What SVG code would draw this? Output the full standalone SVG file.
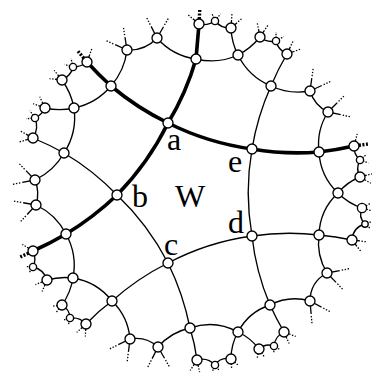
<svg xmlns="http://www.w3.org/2000/svg" xmlns:xlink="http://www.w3.org/1999/xlink" width="372" height="376" viewBox="0 0 372 376">
<style>
.e{fill:none;stroke:#000;stroke-width:1.35}
.t{fill:none;stroke:#000;stroke-width:3.6;stroke-linejoin:round}
circle{fill:#fff;stroke:#000;stroke-width:1.35}
text{font-family:"Liberation Serif","Times New Roman",serif;font-size:32px;fill:#000}
</style>
<defs>
<g id="s24" fill="none" stroke="#000" stroke-width="1.3"><path d="M0 0H13"/><path d="M15 0H24" stroke-dasharray="1.4 1.6"/></g>
<g id="s20" fill="none" stroke="#000" stroke-width="1.3"><path d="M0 0H11"/><path d="M12.5 0H20" stroke-dasharray="1.4 1.6"/></g>
<g id="s14" fill="none" stroke="#000" stroke-width="1.3"><path d="M0 0H8"/><path d="M9.5 0H14" stroke-dasharray="1.4 1.6"/></g>
<g id="s12" fill="none" stroke="#000" stroke-width="1.3"><path d="M0 0H7"/><path d="M8.5 0H12.5" stroke-dasharray="1.4 1.6"/></g>
<g id="s10" fill="none" stroke="#000" stroke-width="1.3"><path d="M0 0H6"/><path d="M7.5 0H10.5" stroke-dasharray="1.4 1.6"/></g>
<g id="s8" fill="none" stroke="#000" stroke-width="1.3"><path d="M0 0H4.5"/><path d="M5.8 0H9" stroke-dasharray="1.4 1.6"/></g>
<g id="s6" fill="none" stroke="#000" stroke-width="1.3"><path d="M0 0H3.6"/><path d="M4.8 0H7.5" stroke-dasharray="1.4 1.6"/></g>
<g id="tk" fill="none" stroke="#000" stroke-width="3.4"><path d="M0 0H7"/><path d="M8.5 0H14" stroke-dasharray="2 1.6"/></g>
</defs>
<rect width="372" height="376" fill="#fff"/>
<g id="connectors">
<path class="t" d="M199 24 L196 59 Q186.3 92.9 168 123 Q148.3 163.1 117 195 Q93.6 217.3 66 234 Q50 243.4 33 251"/>
<path class="t" d="M87 62 Q98.4 74.6 111 86 Q137.2 108 168 123 Q207.9 142.9 252 149 Q285.3 154.7 319 152 Q336.7 149.9 354 146"/>
<path class="e" d="M252 149 Q244.4 192.5 252 236"/>
<path class="e" d="M252 236 Q207.6 242.1 168 263"/>
<path class="e" d="M168 263 Q148.2 224.7 117 195"/>
<path class="e" d="M252 149 Q257.4 116.3 271 86"/>
<path class="e" d="M252 236 Q285.4 231.1 319 235"/>
<path class="e" d="M252 236 Q255.9 271.9 270 305"/>
<path class="e" d="M168 263 Q183.2 294.1 190 328"/>
<path class="e" d="M168 263 Q137.5 278.2 112 301"/>
<path class="e" d="M117 195 Q93.3 170.4 64 153"/>
<path class="e" d="M196 59 Q217.7 64.3 238 55"/>
<path class="e" d="M238 55 Q248.7 76.7 271 86"/>
<path class="e" d="M319 152 Q320.3 176.3 338 193"/>
<path class="e" d="M338 193 Q319.7 210 319 235"/>
<path class="e" d="M270 305 Q248.5 312 238 332"/>
<path class="e" d="M238 332 Q214.9 319.3 190 328"/>
<path class="e" d="M112 301 Q97 281.8 73 278"/>
<path class="e" d="M73 278 Q77.5 254.7 66 234"/>
<path class="e" d="M64 153 Q77.4 132.4 74 108"/>
<path class="e" d="M74 108 Q96.3 103.4 111 86"/>
<path class="e" d="M111 86 Q124.6 70.5 127 50"/>
<path class="e" d="M196 59 Q172.6 55.8 157 38"/>
<path class="e" d="M238 55 Q231.5 42.3 231 28"/>
<path class="e" d="M238 55 Q250.9 48.3 260 37"/>
<path class="e" d="M271 86 Q277.8 69.4 287 54"/>
<path class="e" d="M271 86 Q289.7 94.8 310 91"/>
<path class="e" d="M319 152 Q316.3 130.4 328 112"/>
<path class="e" d="M338 193 Q346.9 182.1 360 177"/>
<path class="e" d="M338 193 Q348.2 203.4 362 208"/>
<path class="e" d="M319 235 Q335.7 236.3 352 240"/>
<path class="e" d="M319 235 Q316.3 255.4 327 273"/>
<path class="e" d="M270 305 Q289.2 294.9 310 301"/>
<path class="e" d="M270 305 Q276.3 318.9 284 332"/>
<path class="e" d="M238 332 Q250.6 337.9 259 349"/>
<path class="e" d="M238 332 Q231 344.6 231 359"/>
<path class="e" d="M190 328 Q194.9 343.7 197 360"/>
<path class="e" d="M190 328 Q170.8 332.1 158 347"/>
<path class="e" d="M112 301 Q128.1 316.6 130 339"/>
<path class="e" d="M112 301 Q97.9 311.3 86 324"/>
<path class="e" d="M73 278 Q70.6 292.8 62 305"/>
<path class="e" d="M73 278 Q59.8 276.3 47 280"/>
<path class="e" d="M66 234 Q55.9 214.4 36 205"/>
<path class="e" d="M64 153 Q53.8 171.1 35 180"/>
<path class="e" d="M64 153 Q48.9 144.6 33 138"/>
<path class="e" d="M74 108 Q59.5 111.3 45 108"/>
<path class="e" d="M74 108 Q71.1 92.7 62 80"/>
<path class="e" d="M127 50 Q144.8 51 157 38"/>
<path class="e" d="M310 91 Q314.4 105.4 328 112"/>
<path class="e" d="M327 273 Q310.2 282 310 301"/>
<path class="e" d="M158 347 Q146 336.1 130 339"/>
<path class="e" d="M36 205 Q40 192.3 35 180"/>
<path class="e" d="M199 24 Q207.7 26.1 215 21"/>
<path class="e" d="M215 21 Q221.2 28.5 231 28"/>
<path class="e" d="M260 37 Q267 43 276 41"/>
<path class="e" d="M276 41 Q278.3 50.2 287 54"/>
<path class="e" d="M354 146 Q353.6 154.5 360 160"/>
<path class="e" d="M360 160 Q355.3 168.5 360 177"/>
<path class="e" d="M362 208 Q357.9 217 365 224"/>
<path class="e" d="M365 224 Q352.8 227.4 352 240"/>
<path class="e" d="M284 332 Q275 336.2 274 346"/>
<path class="e" d="M274 346 Q265.6 343 259 349"/>
<path class="e" d="M231 359 Q220.9 356.5 215 365"/>
<path class="e" d="M215 365 Q207.5 357 197 360"/>
<path class="e" d="M86 324 Q79.6 316.7 70 318"/>
<path class="e" d="M70 318 Q69.6 309.3 62 305"/>
<path class="e" d="M47 280 Q43.8 269.4 33 267"/>
<path class="e" d="M33 267 Q36.8 259 33 251"/>
<path class="e" d="M33 138 Q39.2 128.5 35 118"/>
<path class="e" d="M35 118 Q41.9 114.9 45 108"/>
<path class="e" d="M62 80 Q70.7 76.2 73 67"/>
<path class="e" d="M73 67 Q80.9 67 87 62"/>
<use href="#s24" transform="translate(127 50) rotate(-156)"/>
<use href="#s24" transform="translate(127 50) rotate(-99)"/>
<use href="#s24" transform="translate(157 38) rotate(-60)"/>
<use href="#s24" transform="translate(157 38) rotate(-117)"/>
<use href="#tk" transform="translate(199 24) rotate(-87)"/>
<use href="#s14" transform="translate(199 24) rotate(-140)"/>
<use href="#s8" transform="translate(215 21) rotate(-112)"/>
<use href="#s8" transform="translate(215 21) rotate(-52)"/>
<use href="#s14" transform="translate(231 28) rotate(-41)"/>
<use href="#s14" transform="translate(231 28) rotate(-86)"/>
<use href="#s14" transform="translate(260 37) rotate(-101)"/>
<use href="#s14" transform="translate(260 37) rotate(-56)"/>
<use href="#s8" transform="translate(276 41) rotate(-90)"/>
<use href="#s8" transform="translate(276 41) rotate(-30)"/>
<use href="#s14" transform="translate(287 54) rotate(-20)"/>
<use href="#s14" transform="translate(287 54) rotate(-65)"/>
<use href="#s24" transform="translate(310 91) rotate(-82)"/>
<use href="#s24" transform="translate(310 91) rotate(-25)"/>
<use href="#s24" transform="translate(328 112) rotate(12)"/>
<use href="#s24" transform="translate(328 112) rotate(-45)"/>
<use href="#tk" transform="translate(354 146) rotate(-8)"/>
<use href="#s12" transform="translate(354 146) rotate(-75)"/>
<use href="#s8" transform="translate(360 160) rotate(-40)"/>
<use href="#s8" transform="translate(360 160) rotate(20)"/>
<use href="#s12" transform="translate(360 177) rotate(30)"/>
<use href="#s12" transform="translate(360 177) rotate(-15)"/>
<use href="#s10" transform="translate(362 208) rotate(-29)"/>
<use href="#s10" transform="translate(362 208) rotate(16)"/>
<use href="#s6" transform="translate(365 224) rotate(-20)"/>
<use href="#s6" transform="translate(365 224) rotate(40)"/>
<use href="#s14" transform="translate(352 240) rotate(52)"/>
<use href="#s14" transform="translate(352 240) rotate(7)"/>
<use href="#s24" transform="translate(327 273) rotate(-11)"/>
<use href="#s24" transform="translate(327 273) rotate(46)"/>
<use href="#s24" transform="translate(310 301) rotate(85)"/>
<use href="#s24" transform="translate(310 301) rotate(28)"/>
<use href="#s12" transform="translate(284 332) rotate(21)"/>
<use href="#s12" transform="translate(284 332) rotate(66)"/>
<use href="#s6" transform="translate(274 346) rotate(32)"/>
<use href="#s6" transform="translate(274 346) rotate(92)"/>
<use href="#s10" transform="translate(259 349) rotate(101)"/>
<use href="#s10" transform="translate(259 349) rotate(56)"/>
<use href="#s10" transform="translate(231 359) rotate(41)"/>
<use href="#s10" transform="translate(231 359) rotate(86)"/>
<use href="#s6" transform="translate(215 365) rotate(52)"/>
<use href="#s6" transform="translate(215 365) rotate(112)"/>
<use href="#s12" transform="translate(197 360) rotate(123)"/>
<use href="#s12" transform="translate(197 360) rotate(78)"/>
<use href="#s24" transform="translate(158 347) rotate(60)"/>
<use href="#s24" transform="translate(158 347) rotate(117)"/>
<use href="#s24" transform="translate(130 339) rotate(154)"/>
<use href="#s24" transform="translate(130 339) rotate(97)"/>
<use href="#s12" transform="translate(86 324) rotate(93)"/>
<use href="#s12" transform="translate(86 324) rotate(138)"/>
<use href="#s6" transform="translate(70 318) rotate(103)"/>
<use href="#s6" transform="translate(70 318) rotate(163)"/>
<use href="#s10" transform="translate(62 305) rotate(173)"/>
<use href="#s10" transform="translate(62 305) rotate(128)"/>
<use href="#s12" transform="translate(47 280) rotate(113)"/>
<use href="#s12" transform="translate(47 280) rotate(158)"/>
<use href="#s6" transform="translate(33 267) rotate(124)"/>
<use href="#s6" transform="translate(33 267) rotate(184)"/>
<use href="#tk" transform="translate(33 251) rotate(155)"/>
<use href="#s12" transform="translate(33 251) rotate(212)"/>
<use href="#s24" transform="translate(36 205) rotate(133)"/>
<use href="#s24" transform="translate(36 205) rotate(190)"/>
<use href="#s24" transform="translate(35 180) rotate(226)"/>
<use href="#s24" transform="translate(35 180) rotate(169)"/>
<use href="#s14" transform="translate(33 138) rotate(164)"/>
<use href="#s14" transform="translate(33 138) rotate(209)"/>
<use href="#s8" transform="translate(35 118) rotate(175)"/>
<use href="#s8" transform="translate(35 118) rotate(235)"/>
<use href="#s12" transform="translate(45 108) rotate(245)"/>
<use href="#s12" transform="translate(45 108) rotate(200)"/>
<use href="#s12" transform="translate(62 80) rotate(186)"/>
<use href="#s12" transform="translate(62 80) rotate(231)"/>
<use href="#s8" transform="translate(73 67) rotate(197)"/>
<use href="#s8" transform="translate(73 67) rotate(257)"/>
<use href="#tk" transform="translate(87 62) rotate(-130)"/>
<use href="#s14" transform="translate(87 62) rotate(-70)"/>
</g>
<g id="nodes">
<g id="a"><circle cx="168" cy="123" r="5"/><text x="167" y="150">a</text></g>
<g id="e"><circle cx="252" cy="149" r="5"/><text x="228" y="172">e</text></g>
<g id="d"><circle cx="252" cy="236" r="5"/><text x="228" y="233">d</text></g>
<g id="c"><circle cx="168" cy="263" r="5"/><text x="164" y="255">c</text></g>
<g id="b"><circle cx="117" cy="195" r="5"/><text x="132" y="207">b</text></g>
<g id="W"><text x="175" y="207">W</text></g>
<g id="A1"><circle cx="196" cy="59" r="5"/></g>
<g id="A2"><circle cx="111" cy="86" r="5"/></g>
<g id="X"><circle cx="238" cy="55" r="5"/></g>
<g id="E1"><circle cx="271" cy="86" r="5"/></g>
<g id="E2"><circle cx="319" cy="152" r="5"/></g>
<g id="Y"><circle cx="338" cy="193" r="5"/></g>
<g id="D1"><circle cx="319" cy="235" r="5"/></g>
<g id="D2"><circle cx="270" cy="305" r="5"/></g>
<g id="Z"><circle cx="238" cy="332" r="5"/></g>
<g id="C1"><circle cx="190" cy="328" r="5"/></g>
<g id="C2"><circle cx="112" cy="301" r="5"/></g>
<g id="W1"><circle cx="73" cy="278" r="5"/></g>
<g id="B1"><circle cx="66" cy="234" r="5"/></g>
<g id="B2"><circle cx="64" cy="153" r="5"/></g>
<g id="V"><circle cx="74" cy="108" r="5"/></g>
<g id="P1"><circle cx="127" cy="50" r="5"/></g>
<g id="P2"><circle cx="157" cy="38" r="5"/></g>
<g id="P3"><circle cx="199" cy="24" r="5"/></g>
<g id="P4"><circle cx="215" cy="21" r="3.6"/></g>
<g id="P5"><circle cx="231" cy="28" r="5"/></g>
<g id="P6"><circle cx="260" cy="37" r="5"/></g>
<g id="P7"><circle cx="276" cy="41" r="3.6"/></g>
<g id="P8"><circle cx="287" cy="54" r="5"/></g>
<g id="P9"><circle cx="310" cy="91" r="5"/></g>
<g id="P10"><circle cx="328" cy="112" r="5"/></g>
<g id="P11"><circle cx="354" cy="146" r="5"/></g>
<g id="P12"><circle cx="360" cy="160" r="3.6"/></g>
<g id="P13"><circle cx="360" cy="177" r="5"/></g>
<g id="U1"><circle cx="362" cy="208" r="4.6"/></g>
<g id="U3"><circle cx="365" cy="224" r="3.2"/></g>
<g id="U2"><circle cx="352" cy="240" r="5"/></g>
<g id="T2"><circle cx="327" cy="273" r="5"/></g>
<g id="T1"><circle cx="310" cy="301" r="5"/></g>
<g id="T3"><circle cx="284" cy="332" r="5"/></g>
<g id="T4"><circle cx="274" cy="346" r="3.6"/></g>
<g id="S6"><circle cx="259" cy="349" r="5"/></g>
<g id="S5"><circle cx="231" cy="359" r="5"/></g>
<g id="S4"><circle cx="215" cy="365" r="3.6"/></g>
<g id="S3"><circle cx="197" cy="360" r="5"/></g>
<g id="S2"><circle cx="158" cy="347" r="5"/></g>
<g id="S1"><circle cx="130" cy="339" r="5"/></g>
<g id="R7"><circle cx="86" cy="324" r="5"/></g>
<g id="R6"><circle cx="70" cy="318" r="3.6"/></g>
<g id="R5"><circle cx="62" cy="305" r="5"/></g>
<g id="R4"><circle cx="47" cy="280" r="5"/></g>
<g id="R3"><circle cx="33" cy="267" r="3.6"/></g>
<g id="R2"><circle cx="33" cy="251" r="5"/></g>
<g id="R1"><circle cx="36" cy="205" r="5"/></g>
<g id="R0"><circle cx="35" cy="180" r="5"/></g>
<g id="Q6"><circle cx="33" cy="138" r="5"/></g>
<g id="Q5"><circle cx="35" cy="118" r="3.6"/></g>
<g id="Q4"><circle cx="45" cy="108" r="5"/></g>
<g id="Q3"><circle cx="62" cy="80" r="5"/></g>
<g id="Q2"><circle cx="73" cy="67" r="3.6"/></g>
<g id="Q1"><circle cx="87" cy="62" r="5"/></g>
</g>
</svg>
